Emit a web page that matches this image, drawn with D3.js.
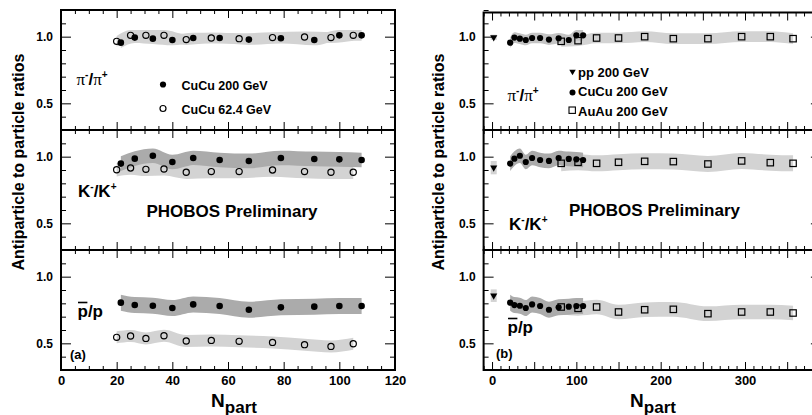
<!DOCTYPE html>
<html><head><meta charset="utf-8">
<script src="https://cdn.jsdelivr.net/npm/d3@7"></script>
<style>
body{margin:0;background:#fff}
svg text{font-family:"Liberation Sans",Arial,sans-serif;font-weight:bold;fill:#000}
</style>
</head><body>
<svg id="c" width="812" height="415"></svg>
<script>
// ---------------- data ----------------
const npCu200 = [21.5, 26.5, 33, 40, 47.5, 57, 67.5, 79, 91, 100, 108];
const npCu62  = [20, 25, 30.5, 37, 45, 54, 64, 76, 87.5, 97, 105];
const npAu200 = [82, 102, 124, 150, 181, 215, 256, 296, 330, 357];
const npPP    = [2];

const piCu200 = [0.955, 0.993, 0.985, 0.975, 0.99, 0.99, 0.978, 0.988, 0.975, 1.01, 1.01];
const piCu62  = [0.965, 1.01, 1.01, 1.01, 0.978, 0.99, 0.985, 0.993, 0.998, 0.993, 1.01];
const kCu200  = [0.948, 0.985, 1.007, 0.96, 0.99, 0.975, 0.968, 0.99, 0.983, 0.98, 0.975];
const kCu62   = [0.902, 0.915, 0.905, 0.908, 0.883, 0.888, 0.888, 0.9, 0.888, 0.883, 0.883];
const pCu200  = [0.805, 0.787, 0.782, 0.765, 0.792, 0.78, 0.752, 0.77, 0.775, 0.78, 0.78];
const pCu62   = [0.545, 0.555, 0.537, 0.557, 0.517, 0.522, 0.515, 0.507, 0.49, 0.477, 0.497];
const piAu200 = [0.965, 0.97, 0.99, 0.99, 1.0, 0.985, 0.985, 1.0, 1.0, 0.985];
const kAu200  = [0.95, 0.958, 0.95, 0.958, 0.965, 0.963, 0.945, 0.968, 0.955, 0.95];
const pAu200  = [0.7725, 0.7625, 0.7725, 0.735, 0.752, 0.755, 0.7225, 0.735, 0.735, 0.7275];
const piPP = [0.995], kPP = [0.9175], pPP = [0.8575];

// systematic uncertainties (band half widths)
const sysPiCu200 = [0.04, 0.04, 0.04, 0.04, 0.04, 0.04, 0.04, 0.04, 0.04, 0.04, 0.04];
const sysPiCu62  = [0.04, 0.04, 0.04, 0.04, 0.04, 0.04, 0.04, 0.04, 0.04, 0.04, 0.04];
const sysKCu200  = [0.055, 0.055, 0.055, 0.055, 0.055, 0.055, 0.055, 0.055, 0.055, 0.055, 0.055];
const sysKCu62   = [0.05, 0.05, 0.05, 0.05, 0.05, 0.05, 0.05, 0.05, 0.05, 0.05, 0.05];
const sysPCu200  = [0.06, 0.06, 0.06, 0.06, 0.06, 0.06, 0.06, 0.06, 0.06, 0.06, 0.06];
const sysPCu62   = [0.045, 0.045, 0.045, 0.045, 0.045, 0.045, 0.045, 0.045, 0.045, 0.045, 0.045];
const sysPiAu200 = [0.04, 0.04, 0.04, 0.04, 0.04, 0.04, 0.04, 0.04, 0.04, 0.04];
const sysKAu200  = [0.06, 0.06, 0.06, 0.06, 0.06, 0.06, 0.06, 0.06, 0.06, 0.06];
const sysPAu200  = [0.055, 0.055, 0.055, 0.055, 0.055, 0.055, 0.055, 0.055, 0.055, 0.055];
const sysPiPP = [0.02], sysKPP = [0.05], sysPPP = [0.047];

const xTickLabelsA = [0, 20, 40, 60, 80, 100, 120];
const xTickLabelsB = [0, 100, 200, 300];
const yTickLabels  = [0.5, 1.0];
const legendA = ["CuCu 200 GeV", "CuCu 62.4 GeV"];
const legendB = ["pp 200 GeV", "CuCu 200 GeV", "AuAu 200 GeV"];

// ---------------- drawing ----------------
const LIGHT = "#d3d3d3", DARK = "#ababab";
const svg = d3.select("#c");
const rows = [{top:10, bot:130}, {top:130, bot:250}, {top:250, bot:370}];
const yDom = [0.3, 1.2];

const panels = [
  {x0:61, x1:395, dom:[0,120], major:20, minor:5, labels:xTickLabelsA, top0:10},
  {x0:483.6, x1:820.9, dom:[-10,390], major:50, minor:10, labels:xTickLabelsB, top0:12.5}
];
panels.forEach(p => p.x = d3.scaleLinear().domain(p.dom).range([p.x0, p.x1]));
const yS = rows.map(r => d3.scaleLinear().domain(yDom).range([r.bot, r.bot - (r.bot - r.top)]));

function band(g, x, y, xs, vals, sys, color) {
  const d = xs.map((v,i) => ({x:v, v:vals[i], s:sys[i]}));
  const area = d3.area().x(e => x(e.x)).y0(e => y(e.v - e.s)).y1(e => y(e.v + e.s)).curve(d3.curveMonotoneX);
  g.append("path").attr("d", area(d)).attr("fill", color).attr("stroke", "none");
}
function boxBand(g, x, y, xs, vals, sys, color) {
  g.selectAll(null).data(xs).enter().append("rect")
    .attr("x", d => x(d) - 3).attr("width", 6)
    .attr("y", (d,i) => y(vals[i] + sys[i]))
    .attr("height", (d,i) => y(vals[i] - sys[i]) - y(vals[i] + sys[i]))
    .attr("fill", color);
}
function filled(g, x, y, xs, vals, r=3.3) {
  g.selectAll(null).data(xs).enter().append("circle")
    .attr("cx", d => x(d)).attr("cy", (d,i) => y(vals[i])).attr("r", r).attr("fill", "#000");
}
function open(g, x, y, xs, vals, r=3.1) {
  g.selectAll(null).data(xs).enter().append("circle")
    .attr("cx", d => x(d)).attr("cy", (d,i) => y(vals[i])).attr("r", r)
    .attr("fill", "none").attr("stroke", "#000").attr("stroke-width", 1.2);
}
function squares(g, x, y, xs, vals, s=6.4) {
  g.selectAll(null).data(xs).enter().append("rect")
    .attr("x", d => x(d) - s/2).attr("y", (d,i) => y(vals[i]) - s/2)
    .attr("width", s).attr("height", s)
    .attr("fill", "none").attr("stroke", "#000").attr("stroke-width", 1.2);
}
const triSym = d3.symbol().type(d3.symbolTriangle).size(22);
function tris(g, x, y, xs, vals) {
  g.selectAll(null).data(xs).enter().append("path")
    .attr("d", triSym)
    .attr("transform", (d,i) => `translate(${x(d)},${y(vals[i])}) rotate(180)`)
    .attr("fill", "#000");
}

// bands and markers
const A = panels[0], B = panels[1];
const gData = svg.append("g");
// panel a
band(gData, A.x, yS[0], npCu62, piCu62, sysPiCu62, LIGHT);
band(gData, A.x, yS[0], npCu200, piCu200, sysPiCu200, LIGHT);
band(gData, A.x, yS[1], npCu62, kCu62, sysKCu62, LIGHT);
band(gData, A.x, yS[1], npCu200, kCu200, sysKCu200, DARK);
band(gData, A.x, yS[2], npCu62, pCu62, sysPCu62, LIGHT);
band(gData, A.x, yS[2], npCu200, pCu200, sysPCu200, DARK);
open(gData, A.x, yS[0], npCu62, piCu62);
filled(gData, A.x, yS[0], npCu200, piCu200);
open(gData, A.x, yS[1], npCu62, kCu62);
filled(gData, A.x, yS[1], npCu200, kCu200);
open(gData, A.x, yS[2], npCu62, pCu62);
filled(gData, A.x, yS[2], npCu200, pCu200);
// panel b
const gB = svg.append("g");
band(gB, B.x, yS[0], npAu200, piAu200, sysPiAu200, LIGHT);
band(gB, B.x, yS[0], npCu200, piCu200, sysPiCu200, "#c4c4c4");
band(gB, B.x, yS[1], npAu200, kAu200, sysKAu200, LIGHT);
band(gB, B.x, yS[1], npCu200, kCu200, sysKCu200, DARK);
band(gB, B.x, yS[2], npAu200, pAu200, sysPAu200, LIGHT);
band(gB, B.x, yS[2], npCu200, pCu200, sysPCu200, DARK);
boxBand(gB, B.x, yS[0], npPP, piPP, sysPiPP, LIGHT);
boxBand(gB, B.x, yS[1], npPP, kPP, sysKPP, LIGHT);
boxBand(gB, B.x, yS[2], npPP, pPP, sysPPP, LIGHT);
[[piAu200, piCu200, piPP], [kAu200, kCu200, kPP], [pAu200, pCu200, pPP]].forEach((s, r) => {
  squares(gB, B.x, yS[r], npAu200, s[0]);
  filled(gB, B.x, yS[r], npCu200, s[1], 3.1);
  tris(gB, B.x, yS[r], npPP, s[2]);
});

// axes & frames
const yMinor = d3.range(3, 13).map(v => v / 10).filter(v => !yTickLabels.some(t => Math.abs(t - v) < 1e-6));
panels.forEach((p, pi) => {
  const xMaj = d3.range(Math.ceil(p.dom[0] / p.major) * p.major, p.dom[1] + 0.01, p.major);
  const xMin = d3.range(Math.ceil(p.dom[0] / p.minor) * p.minor, p.dom[1] + 0.01, p.minor).filter(v => v % p.major !== 0);
  rows.forEach((r, ri) => {
    const y = yS[ri];
    const top = ri === 0 ? p.top0 : r.top;
    const g = svg.append("g");
    const strip = sel => { sel.select(".domain").remove(); sel.selectAll("text").remove(); sel.selectAll("line").attr("stroke-width", 1); };
    // bottom edge ticks (inward = up)
    g.append("g").attr("transform", `translate(0,${r.bot})`).call(d3.axisTop(p.x).tickValues(xMaj).tickSize(8)).call(strip);
    g.append("g").attr("transform", `translate(0,${r.bot})`).call(d3.axisTop(p.x).tickValues(xMin).tickSize(4)).call(strip);
    // top edge ticks (inward = down)
    g.append("g").attr("transform", `translate(0,${top})`).call(d3.axisBottom(p.x).tickValues(xMaj).tickSize(8)).call(strip);
    g.append("g").attr("transform", `translate(0,${top})`).call(d3.axisBottom(p.x).tickValues(xMin).tickSize(4)).call(strip);
    // left / right ticks
    g.append("g").attr("transform", `translate(${p.x0},0)`).call(d3.axisRight(y).tickValues(yTickLabels).tickSize(10)).call(strip);
    g.append("g").attr("transform", `translate(${p.x0},0)`).call(d3.axisRight(y).tickValues(yMinor).tickSize(5)).call(strip);
    g.append("g").attr("transform", `translate(${p.x1},0)`).call(d3.axisLeft(y).tickValues(yTickLabels).tickSize(10)).call(strip);
    g.append("g").attr("transform", `translate(${p.x1},0)`).call(d3.axisLeft(y).tickValues(yMinor).tickSize(5)).call(strip);
    // y labels
    const yl = g.append("g").attr("transform", `translate(${p.x0},0)`)
      .call(d3.axisLeft(y).tickValues(yTickLabels).tickSize(0).tickPadding(8).tickFormat(d3.format(".1f")));
    yl.select(".domain").remove();
    yl.selectAll("text").style("font-size", "12px").style("font-family", "Liberation Sans, Arial, sans-serif").style("font-weight", "bold");
    // frame
    g.append("rect").attr("x", p.x0).attr("y", top).attr("width", p.x1 - p.x0).attr("height", r.bot - top)
      .attr("fill", "none").attr("stroke", "#000").attr("stroke-width", 2);
    if (ri === 2) {
      const xl = g.append("g").attr("transform", `translate(0,${r.bot})`)
        .call(d3.axisBottom(p.x).tickValues(p.labels).tickSize(0).tickPadding(6).tickFormat(d3.format("d")));
      xl.select(".domain").remove();
      xl.selectAll("text").style("font-size", "13px").style("font-family", "Liberation Sans, Arial, sans-serif").style("font-weight", "bold");
    }
  });
});

// axis titles
function yTitle(xb, yc, txt) {
  svg.append("text").attr("transform", `translate(${xb},${yc}) rotate(-90)`)
    .attr("text-anchor", "middle").style("font-size", "16px").text(txt);
}
yTitle(23.5, 162, "Antiparticle to particle ratios");
yTitle(443.5, 162, "Antiparticle to  particle ratios");
function xTitle(xc, yb) {
  const t = svg.append("text").attr("x", xc).attr("y", yb).attr("text-anchor", "middle");
  t.append("tspan").style("font-size", "19px").text("N");
  t.append("tspan").style("font-size", "17px").attr("dy", 6).text("part");
}
xTitle(234, 406.5);
xTitle(653, 406.5);

// species labels
function piLabel(x, y) {
  const t = svg.append("text").attr("x", x).attr("y", y).style("font-size", "17px");
  t.append("tspan").style("font-family", "Liberation Serif, serif").style("font-weight", "normal").text("π");
  t.append("tspan").style("font-size", "10px").attr("dy", -7).text("-");
  t.append("tspan").attr("dy", 7).text("/");
  t.append("tspan").style("font-family", "Liberation Serif, serif").style("font-weight", "normal").text("π");
  t.append("tspan").style("font-size", "10px").attr("dy", -7).text("+");
}
function kLabel(x, y) {
  const t = svg.append("text").attr("x", x).attr("y", y).style("font-size", "17px");
  t.append("tspan").text("K");
  t.append("tspan").style("font-size", "10px").attr("dy", -7).text("-");
  t.append("tspan").attr("dy", 7).text("/K");
  t.append("tspan").style("font-size", "10px").attr("dy", -7).text("+");
}
function pLabel(x, y) {
  const t = svg.append("text").attr("x", x).attr("y", y).style("font-size", "17px").text("p/p");
  const w = t.node().getSubStringLength(0, 1);
  svg.append("line").attr("x1", x + 0.5).attr("x2", x + w - 0.5).attr("y1", y - 14).attr("y2", y - 14)
    .attr("stroke", "#000").attr("stroke-width", 1.6);
}
function txt(x, y, s, size) {
  svg.append("text").attr("x", x).attr("y", y).style("font-size", size + "px").text(s);
}
piLabel(76.5, 85);
kLabel(78, 196.5);
pLabel(77.5, 316.5);
txt(146.5, 217, "PHOBOS Preliminary", 17);
txt(70, 358.5, "(a)", 13);

piLabel(507.5, 100.5);
kLabel(509, 229.5);
pLabel(507.5, 332.5);
txt(569, 215.5, "PHOBOS Preliminary", 17);
txt(496, 357.5, "(b)", 13);

// legends
svg.append("circle").attr("cx", 163).attr("cy", 84.5).attr("r", 3.1).attr("fill", "#000");
txt(181.5, 89.5, legendA[0], 12.5);
svg.append("circle").attr("cx", 163).attr("cy", 108.5).attr("r", 3).attr("fill", "none").attr("stroke", "#000").attr("stroke-width", 1.2);
txt(181.5, 113.5, legendA[1], 12.5);

svg.append("path").attr("d", d3.symbol().type(d3.symbolTriangle).size(18)).attr("transform", "translate(572.5,71.5) rotate(180)");
txt(578, 76.5, legendB[0], 13);
svg.append("circle").attr("cx", 572.5).attr("cy", 92.5).attr("r", 3).attr("fill", "#000");
txt(578, 96, legendB[1], 13);
svg.append("rect").attr("x", 569).attr("y", 107).attr("width", 6.4).attr("height", 6.4).attr("fill", "none").attr("stroke", "#000").attr("stroke-width", 1.1);
txt(578, 115.5, legendB[2], 13);
</script>
</body></html>
